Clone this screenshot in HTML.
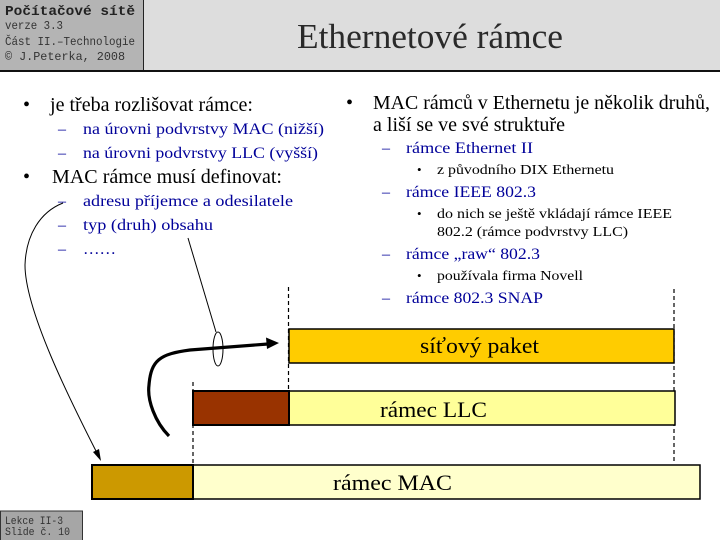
<!DOCTYPE html>
<html>
<head>
<meta charset="utf-8">
<style>
html,body{margin:0;padding:0;background:#fff;}
svg{display:block;}
.s{font-family:"Liberation Serif","DejaVu Serif",serif;}
.m{font-family:"Liberation Mono","DejaVu Sans Mono",monospace;}
</style>
</head>
<body>
<svg width="720" height="540" viewBox="0 0 720 540" xmlns="http://www.w3.org/2000/svg">
  <!-- header -->
  <rect x="0" y="0" width="720" height="71" fill="#dddddd"/>
  <rect x="0" y="0" width="143" height="71" fill="#b4b4b4"/>
  <line x1="143.5" y1="0" x2="143.5" y2="71" stroke="#222" stroke-width="1"/>
  <rect x="0" y="70" width="720" height="2" fill="#111"/>
  <text class="m" x="5" y="15" font-size="13.5" font-weight="bold" fill="#222" textLength="130" lengthAdjust="spacingAndGlyphs">Počítačové sítě</text>
  <text class="m" x="5" y="29" font-size="12" fill="#333" textLength="58" lengthAdjust="spacingAndGlyphs">verze 3.3</text>
  <text class="m" x="5" y="45" font-size="12" fill="#333" textLength="130" lengthAdjust="spacingAndGlyphs">Část II.–Technologie</text>
  <text class="m" x="5" y="60" font-size="12" fill="#333" textLength="120" lengthAdjust="spacingAndGlyphs">© J.Peterka, 2008</text>
  <text class="s" x="297" y="48" font-size="35" fill="#2a2a2a" textLength="266" lengthAdjust="spacingAndGlyphs">Ethernetové rámce</text>

  <!-- left column -->
  <g class="s">
    <text x="23" y="111" font-size="20" fill="#000">•</text>
    <text x="50" y="111" font-size="20" fill="#000" textLength="203" lengthAdjust="spacingAndGlyphs">je třeba rozlišovat rámce:</text>
    <text x="58" y="134" font-size="16" fill="#000099">–</text>
    <text x="83" y="134" font-size="16" fill="#000099" textLength="241" lengthAdjust="spacingAndGlyphs">na úrovni podvrstvy MAC (nižší)</text>
    <text x="58" y="158" font-size="16" fill="#000099">–</text>
    <text x="83" y="158" font-size="16" fill="#000099" textLength="235" lengthAdjust="spacingAndGlyphs">na úrovni podvrstvy LLC (vyšší)</text>
    <text x="23" y="183" font-size="20" fill="#000">•</text>
    <text x="52" y="183" font-size="20" fill="#000" textLength="230" lengthAdjust="spacingAndGlyphs">MAC rámce musí definovat:</text>
    <text x="58" y="206" font-size="16" fill="#000099">–</text>
    <text x="83" y="206" font-size="16" fill="#000099" textLength="210" lengthAdjust="spacingAndGlyphs">adresu příjemce a odesilatele</text>
    <text x="58" y="230" font-size="16" fill="#000099">–</text>
    <text x="83" y="230" font-size="16" fill="#000099" textLength="130" lengthAdjust="spacingAndGlyphs">typ (druh) obsahu</text>
    <text x="58" y="254" font-size="16" fill="#000099">–</text>
    <text x="83" y="254" font-size="16" fill="#000099" textLength="33" lengthAdjust="spacingAndGlyphs">……</text>
  </g>

  <!-- right column -->
  <g class="s">
    <text x="346" y="109" font-size="20" fill="#000">•</text>
    <text x="373" y="109" font-size="20" fill="#000" textLength="337" lengthAdjust="spacingAndGlyphs">MAC rámců v Ethernetu je několik druhů,</text>
    <text x="373" y="131" font-size="20" fill="#000" textLength="192" lengthAdjust="spacingAndGlyphs">a liší se ve své struktuře</text>
    <text x="382" y="153" font-size="16" fill="#000099">–</text>
    <text x="406" y="153" font-size="16" fill="#000099" textLength="127" lengthAdjust="spacingAndGlyphs">rámce Ethernet II</text>
    <text x="417" y="174" font-size="13" fill="#000">•</text>
    <text x="437" y="174" font-size="14" fill="#000" textLength="177" lengthAdjust="spacingAndGlyphs">z původního DIX Ethernetu</text>
    <text x="382" y="197" font-size="16" fill="#000099">–</text>
    <text x="406" y="197" font-size="16" fill="#000099" textLength="130" lengthAdjust="spacingAndGlyphs">rámce IEEE 802.3</text>
    <text x="417" y="218" font-size="13" fill="#000">•</text>
    <text x="437" y="218" font-size="14" fill="#000" textLength="235" lengthAdjust="spacingAndGlyphs">do nich se ještě vkládají rámce IEEE</text>
    <text x="437" y="236" font-size="14" fill="#000" textLength="191" lengthAdjust="spacingAndGlyphs">802.2 (rámce podvrstvy LLC)</text>
    <text x="382" y="259" font-size="16" fill="#000099">–</text>
    <text x="406" y="259" font-size="16" fill="#000099" textLength="134" lengthAdjust="spacingAndGlyphs">rámce „raw“ 802.3</text>
    <text x="417" y="280" font-size="13" fill="#000">•</text>
    <text x="437" y="280" font-size="14" fill="#000" textLength="146" lengthAdjust="spacingAndGlyphs">používala firma Novell</text>
    <text x="382" y="303" font-size="16" fill="#000099">–</text>
    <text x="406" y="303" font-size="16" fill="#000099" textLength="137" lengthAdjust="spacingAndGlyphs">rámce 802.3 SNAP</text>
  </g>

  <!-- dashed guides -->
  <g stroke="#000" stroke-width="1.2" stroke-dasharray="4,3" fill="none">
    <line x1="288.5" y1="287" x2="288.5" y2="391"/>
    <line x1="674" y1="289" x2="674" y2="464"/>
    <line x1="193" y1="382" x2="193" y2="465"/>
  </g>

  <!-- boxes -->
  <rect x="289" y="329" width="385" height="34" fill="#ffcc00" stroke="#000" stroke-width="1.5"/>
  <rect x="289" y="391" width="386" height="34" fill="#ffff99" stroke="#000" stroke-width="1.5"/>
  <rect x="193" y="391" width="96" height="34" fill="#993300" stroke="#000" stroke-width="2"/>
  <rect x="193" y="465" width="507" height="34" fill="#ffffcc" stroke="#000" stroke-width="1.5"/>
  <rect x="92" y="465" width="101" height="34" fill="#cc9900" stroke="#000" stroke-width="2"/>

  <g class="s" fill="#000">
    <text x="420" y="353" font-size="22" textLength="119" lengthAdjust="spacingAndGlyphs">síťový paket</text>
    <text x="380" y="417" font-size="22" textLength="107" lengthAdjust="spacingAndGlyphs">rámec LLC</text>
    <text x="333" y="490" font-size="22" textLength="119" lengthAdjust="spacingAndGlyphs">rámec MAC</text>
  </g>

  <!-- thin curved arrow -->
  <path d="M63,203 C40,212 26,235 25,265 C25,310 70,400 97,453" fill="none" stroke="#000" stroke-width="1"/>
  <polygon points="101,461 93,452 99,449" fill="#000"/>

  <!-- thick curved arrow -->
  <path d="M169,436 C155,422 147,400 149,385 C151,360 160,354 190,350 L268,344" fill="none" stroke="#000" stroke-width="3.2"/>
  <polygon points="279,343 266,337.5 267,349" fill="#000"/>

  <!-- ellipse and pointer line -->
  <ellipse cx="218" cy="349" rx="5" ry="17" fill="none" stroke="#000" stroke-width="1"/>
  <line x1="188" y1="238" x2="216" y2="332" stroke="#000" stroke-width="1"/>

  <!-- footer -->
  <rect x="0.5" y="511" width="82" height="30" fill="#a6a6a6" stroke="#333" stroke-width="1"/>
  <text class="m" x="5" y="524" font-size="11" fill="#333" textLength="58" lengthAdjust="spacingAndGlyphs">Lekce II-3</text>
  <text class="m" x="5" y="535" font-size="11" fill="#333" textLength="65" lengthAdjust="spacingAndGlyphs">Slide č. 10</text>
</svg>
</body>
</html>
